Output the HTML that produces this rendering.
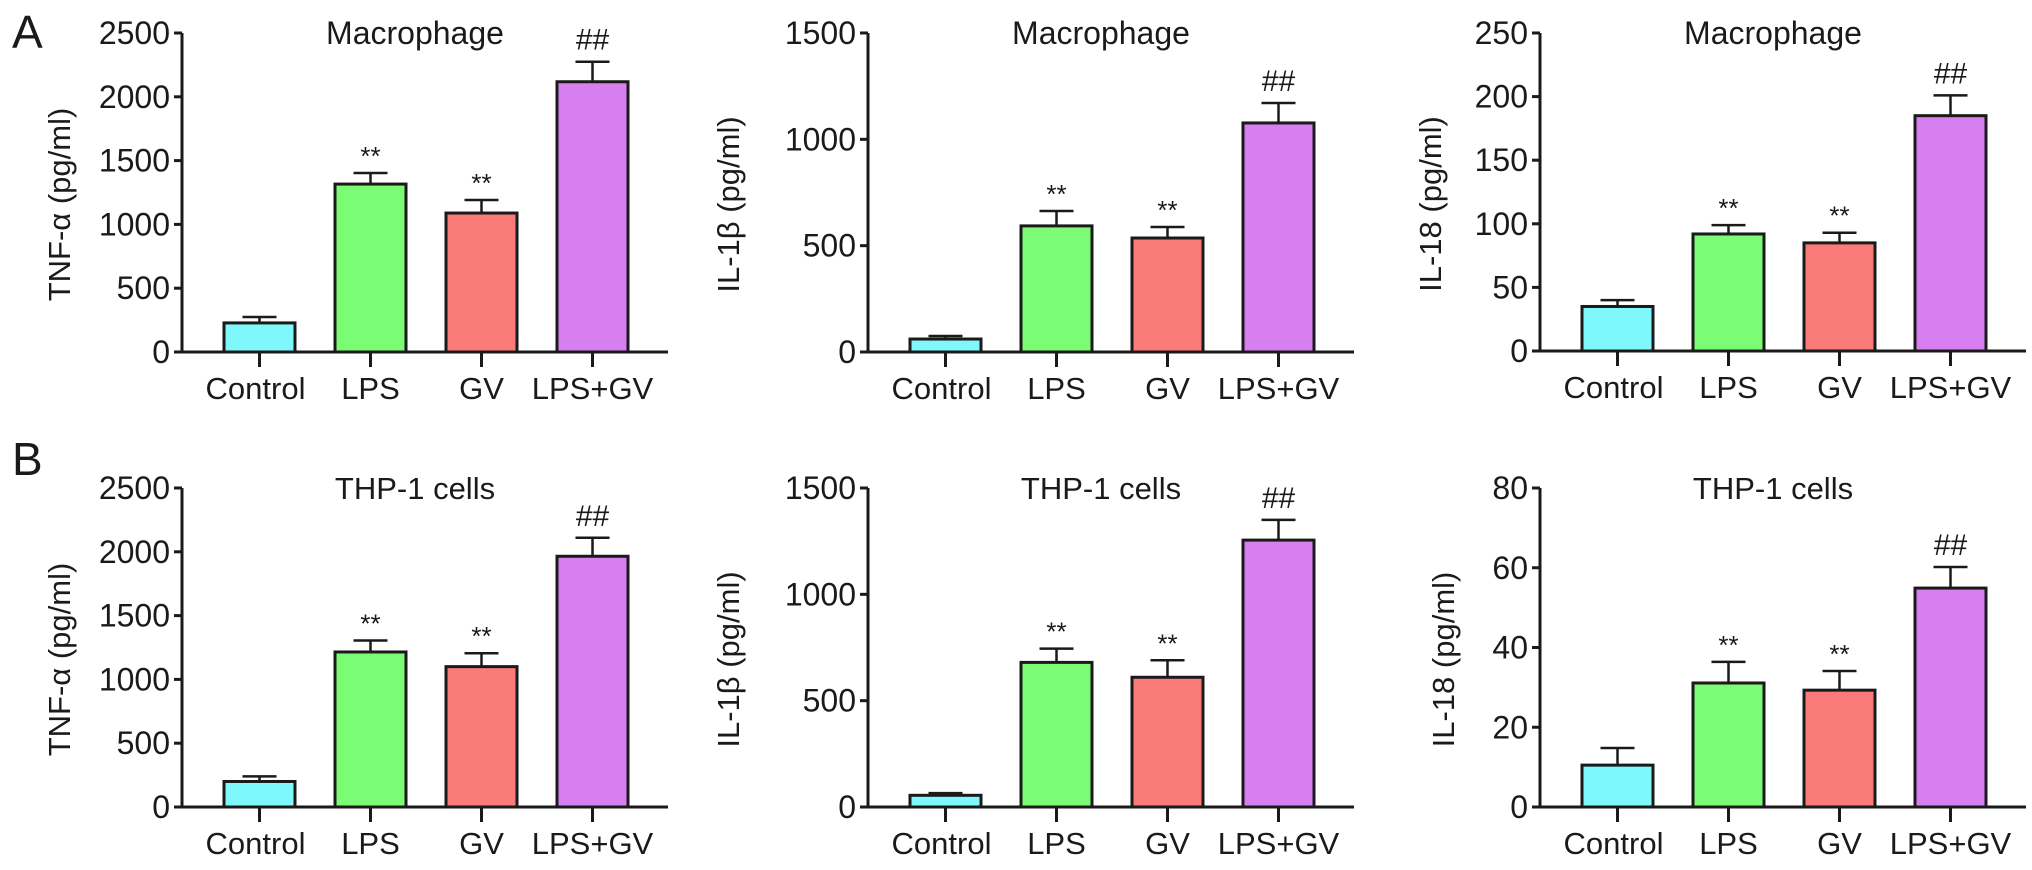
<!DOCTYPE html>
<html><head><meta charset="utf-8"><style>
html,body{margin:0;padding:0;background:#fff;}
svg{display:block;font-family:"Liberation Sans",Arial,sans-serif;}
</style></head><body>
<svg id="fig" width="2032" height="870" viewBox="0 0 2032 870" xmlns="http://www.w3.org/2000/svg"></svg>
<script>
const categories = ["Control","LPS","GV","LPS+GV"];
const colors = ["#7ff8fb","#7cfb74","#fb7b7a","#d77ef0"];
const a1Values = [228, 1316, 1089, 2118];
const a1Errors = [274, 1403, 1191, 2275];
const a2Values = [61, 593, 536, 1077];
const a2Errors = [75, 663, 588, 1171];
const a3Values = [35, 92, 85, 185];
const a3Errors = [40, 99, 93, 201];
const b1Values = [200, 1215, 1100, 1965];
const b1Errors = [240, 1305, 1205, 2110];
const b2Values = [55, 680, 610, 1255];
const b2Errors = [65, 745, 690, 1350];
const b3Values = [10.5, 31.1, 29.3, 54.9];
const b3Errors = [14.8, 36.4, 34.1, 60.2];
const tnfTicks = [0,500,1000,1500,2000,2500];
const il1bTicks = [0,500,1000,1500];
const il18aTicks = [0,50,100,150,200,250];
const il18bTicks = [0,20,40,60,80];
const marks = ["","**","**","##"];

const NS="http://www.w3.org/2000/svg";
const svg=document.getElementById('fig');
function mk(tag,attrs,parent,text){const e=document.createElementNS(NS,tag);for(const k in attrs)e.setAttribute(k,attrs[k]);if(text!==undefined)e.textContent=text;(parent||svg).appendChild(e);return e;}

const panels=[
 {id:'a1',ax:182,top:33,zero:352,ticks:tnfTicks,vals:a1Values,errs:a1Errors,title:'Macrophage',ylab:'TNF-α (pg/ml)',labX:62},
 {id:'a2',ax:868,top:33,zero:352,ticks:il1bTicks,vals:a2Values,errs:a2Errors,title:'Macrophage',ylab:'IL-1β (pg/ml)',labX:731},
 {id:'a3',ax:1540,top:33,zero:351,ticks:il18aTicks,vals:a3Values,errs:a3Errors,title:'Macrophage',ylab:'IL-18 (pg/ml)',labX:1433},
 {id:'b1',ax:182,top:488,zero:807,ticks:tnfTicks,vals:b1Values,errs:b1Errors,title:'THP-1 cells',ylab:'TNF-α (pg/ml)',labX:62},
 {id:'b2',ax:868,top:488,zero:807,ticks:il1bTicks,vals:b2Values,errs:b2Errors,title:'THP-1 cells',ylab:'IL-1β (pg/ml)',labX:731},
 {id:'b3',ax:1540,top:488,zero:807,ticks:il18bTicks,vals:b3Values,errs:b3Errors,title:'THP-1 cells',ylab:'IL-18 (pg/ml)',labX:1446}
];

panels.forEach(p=>{
  const g=mk('g',{});
  
  
  const max=p.ticks[p.ticks.length-1];
  const y=v=>p.zero-(v/max)*(p.zero-p.top);
  const barLeft=i=>p.ax+42+i*111;
  const bw=71;
  p.vals.forEach((v,i)=>{
    const cx=barLeft(i)+bw/2;
    const ey=y(p.errs[i]);
    const ln=mk('line',{x1:cx,x2:cx,y1:y(v),y2:ey,stroke:'#1a1a1a','stroke-width':2.5},g);
    
    
    const cap=mk('line',{x1:cx-17,x2:cx+17,y1:ey,y2:ey,stroke:'#1a1a1a','stroke-width':2.5},g);
    
    
    const r=mk('rect',{x:barLeft(i),y:y(v),width:bw,height:p.zero-y(v),fill:colors[i],stroke:'#1a1a1a','stroke-width':3},g);
    
    
    if(marks[i]){
      const isHash=marks[i]==='##';
      const s=mk('text',{x:cx,y:ey-(isHash?12:8),'text-anchor':'middle','font-size':isHash?30:26,fill:'#1a1a1a'},g,marks[i]);
      
      
    }
    const tk=mk('line',{x1:cx,x2:cx,y1:p.zero,y2:p.zero+15,stroke:'#1a1a1a','stroke-width':3},g);
    
    
    const lb=mk('text',{x:cx+(i===0?-4:0),y:p.zero+47,'text-anchor':'middle','font-size':31,fill:'#1a1a1a'},g,categories[i]);
    
    
  });
  const ya=mk('line',{x1:p.ax,x2:p.ax,y1:p.top,y2:p.zero,stroke:'#1a1a1a','stroke-width':3},g);
  
  
  const xa=mk('line',{x1:p.ax-8,x2:p.ax+486,y1:p.zero,y2:p.zero,stroke:'#1a1a1a','stroke-width':3},g);
  
  
  p.ticks.forEach(t=>{
    const l=mk('line',{x1:p.ax-8,x2:p.ax,y1:y(t),y2:y(t),stroke:'#1a1a1a','stroke-width':3},g);
    
    
    const tx=mk('text',{x:p.ax-12,y:y(t)+11,'text-anchor':'end','font-size':32,fill:'#1a1a1a'},g,String(t));
    
    
  });
  const ti=mk('text',{x:p.ax+233,y:p.top+11,'text-anchor':'middle','font-size':p.title==='Macrophage'?32:31,fill:'#1a1a1a'},g,p.title);
  
  
  const cy=(p.top+p.zero)/2+12;
  const yl=mk('text',{x:p.labX,y:cy,'text-anchor':'middle','font-size':31,fill:'#1a1a1a',transform:'rotate(-90 '+(p.labX)+' '+cy+')','dominant-baseline':'middle'},g,p.ylab);
  
  
});
const la=mk('text',{x:12,y:48,'font-size':46,fill:'#1a1a1a'},svg,'A');


const lbB=mk('text',{x:12,y:475,'font-size':46,fill:'#1a1a1a'},svg,'B');


</script>
</body></html>
